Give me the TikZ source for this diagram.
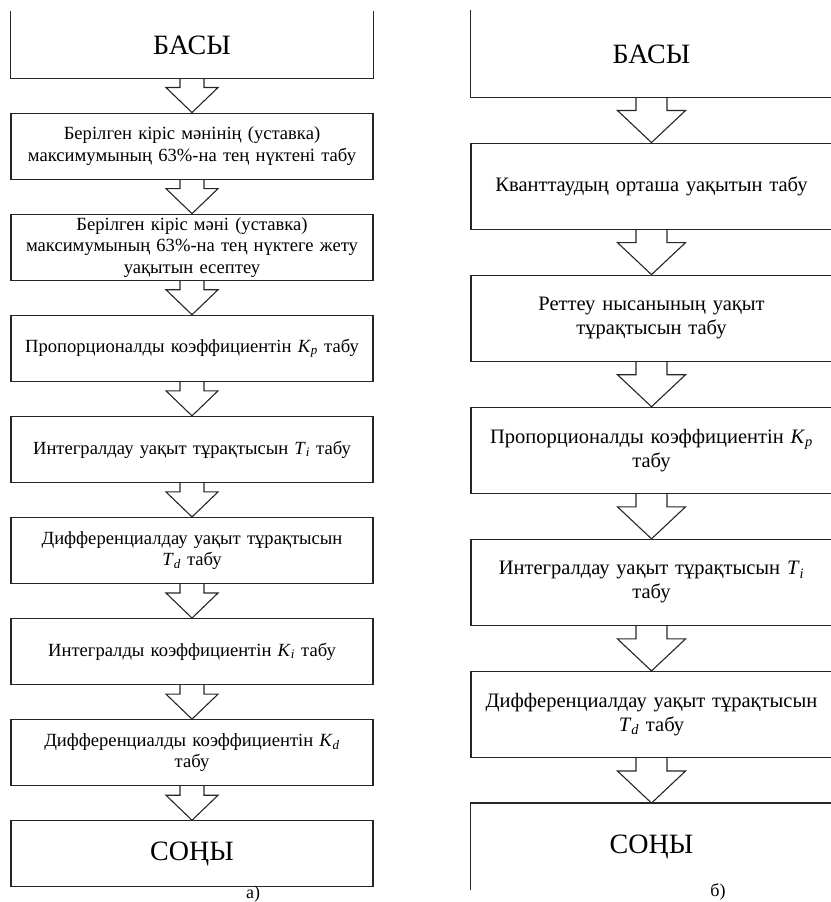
\documentclass[tikz,border=0pt]{standalone}
\usepackage{fontspec}
\setmainfont{Liberation Serif}
\usetikzlibrary{positioning,calc}

\newcommand{\coef}[2]{\textit{#1}\textsubscript{\textit{#2}}}
% hollow block arrow from the bottom of #1 to the top of #2
\newcommand{\flowarrow}[5]{%
  \draw[arrowline] let \p1=(#1.south), \p2=(#2.north) in
    (\x1-#3,\y1) -- (\x1-#3,\y1-#4) -- (\x1-#5,\y1-#4) -- (\x2,\y2)
    -- (\x1+#5,\y1-#4) -- (\x1+#3,\y1-#4) -- (\x1+#3,\y1);}

\begin{document}
\begin{tikzpicture}[x=1pt, y=1pt,
    arrowline/.style={draw=black!85, line width=1.1pt, line join=miter},
    boxline/.style={draw=black!85, line width=1.1pt},
    lbox/.style={boxline, minimum width=362pt, minimum height=66pt, text width=356pt,
        inner sep=0pt, align=center, font=\fontsize{18.6}{21.5}\selectfont},
    rbox/.style={boxline, minimum width=361pt, minimum height=86pt, text width=356pt,
        inner sep=0pt, align=center, font=\fontsize{20.5}{24}\selectfont},
    bigtxt/.style={font=\fontsize{28}{32}\selectfont},
    caption/.style={font=\fontsize{18}{21}\selectfont}]
\useasboundingbox (0,0) rectangle (830,902);

% a)
\begin{scope}[node distance=34pt]
    \node (basa) [lbox, draw=none, bigtxt] at (192,857) {БАСЫ};
    \node (maxpt) [lbox, below=of basa]
        {Берілген кіріс мәнінің (уставка)\\максимумының 63\%-на тең нүктені табу};
    \node (tcalc) [lbox, below=of maxpt]
        {Берілген кіріс мәні (уставка)\\максимумының 63\%-на тең нүктеге жету\\уақытын есептеу};
    \node (kp) [lbox, below=of tcalc]
        {Пропорционалды коэффициентін \coef{K}{p} табу};
    \node (ti) [lbox, below=of kp]
        {Интегралдау уақыт тұрақтысын \coef{T}{i} табу};
    \node (td) [lbox, below=of ti]
        {Дифференциалдау уақыт тұрақтысын\\\coef{T}{d} табу};
    \node (ki) [lbox, below=of td]
        {Интегралды коэффициентін \coef{K}{i} табу};
    \node (kd) [lbox, below=of ki]
        {Дифференциалды коэффициентін \coef{K}{d}\\табу};
    \node (sony) [lbox, bigtxt, below=of kd] {СОҢЫ};
\end{scope}
\draw[boxline] (basa.north west) -- (basa.south west) -- (basa.south east) -- (basa.north east);
\foreach \a/\b in {basa/maxpt, maxpt/tcalc, tcalc/kp, kp/ti, ti/td, td/ki, ki/kd, kd/sony}
    \flowarrow{\a}{\b}{12pt}{9pt}{26pt};
\node (capa) [caption] at (253,8) {а)};

% б)
\begin{scope}[node distance=45pt]
    \node (basb) [rbox, draw=none, bigtxt] at (651.5,848) {БАСЫ};
    \node (quant) [rbox, below=of basb]
        {Кванттаудың орташа уақытын табу};
    \node (tobj) [rbox, below=of quant]
        {Реттеу нысанының уақыт\\тұрақтысын табу};
    \node (kpb) [rbox, below=of tobj]
        {Пропорционалды коэффициентін \coef{K}{p}\\табу};
    \node (tib) [rbox, below=of kpb]
        {Интегралдау уақыт тұрақтысын \coef{T}{i}\\табу};
    \node (tdb) [rbox, below=of tib]
        {Дифференциалдау уақыт тұрақтысын\\\coef{T}{d} табу};
    \node (sonyb) [rbox, draw=none, bigtxt, below=of tdb] {СОҢЫ};
\end{scope}
\draw[boxline] (basb.north west) -- (basb.south west) -- (basb.south east) -- (basb.north east);
\draw[boxline] (sonyb.south west) -- (sonyb.north west) -- (sonyb.north east) -- (sonyb.south east);
\foreach \a/\b in {basb/quant, quant/tobj, tobj/kpb, kpb/tib, tib/tdb, tdb/sonyb}
    \flowarrow{\a}{\b}{15.5pt}{13pt}{34pt};
\node (capb) [caption] at (718,10) {б)};
\end{tikzpicture}
\end{document}
